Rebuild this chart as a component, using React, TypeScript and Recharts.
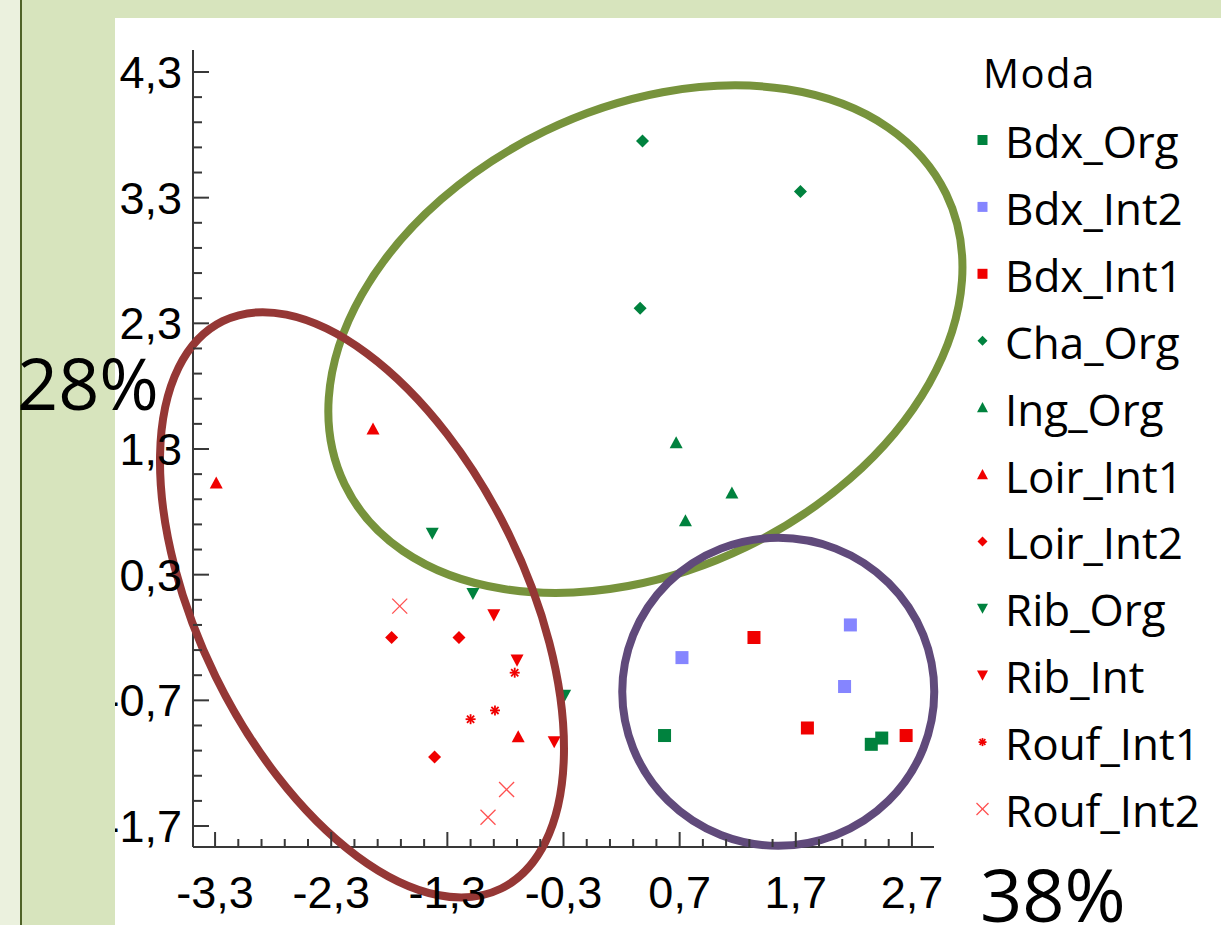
import React from 'react';
import { ScatterChart, Scatter, XAxis, YAxis, Legend, ReferenceDot } from 'recharts';

type Pt = { x: number; y: number };
type Kind = 'square' | 'diamond' | 'up' | 'down' | 'star' | 'cross';

// tick values (majors carry labels)
const xMajor = [-3.3, -2.3, -1.3, -0.3, 0.7, 1.7, 2.7];
const xTicks = [-3.3, -3.1, -2.9, -2.7, -2.5, -2.3, -2.1, -1.9, -1.7, -1.5, -1.3, -1.1, -0.9, -0.7, -0.5, -0.3,
  -0.1, 0.1, 0.3, 0.5, 0.7, 0.9, 1.1, 1.3, 1.5, 1.7, 1.9, 2.1, 2.3, 2.5, 2.7];
const yMajor = [-1.7, -0.7, 0.3, 1.3, 2.3, 3.3, 4.3];
const yTicks = [-1.7, -1.5, -1.3, -1.1, -0.9, -0.7, -0.5, -0.3, -0.1, 0.1, 0.3, 0.5, 0.7, 0.9, 1.1, 1.3,
  1.5, 1.7, 1.9, 2.1, 2.3, 2.5, 2.7, 2.9, 3.1, 3.3, 3.5, 3.7, 3.9, 4.1, 4.3];

// series
const bdxOrg: Pt[] = [{ x: 0.57, y: -0.98 }, { x: 2.35, y: -1.05 }, { x: 2.44, y: -1.0 }];
const bdxInt2: Pt[] = [{ x: 0.72, y: -0.36 }, { x: 2.17, y: -0.1 }, { x: 2.12, y: -0.59 }];
const bdxInt1: Pt[] = [{ x: 1.34, y: -0.2 }, { x: 1.8, y: -0.92 }, { x: 2.65, y: -0.98 }];
const chaOrg: Pt[] = [{ x: 0.38, y: 3.75 }, { x: 1.74, y: 3.35 }, { x: 0.36, y: 2.42 }];
const ingOrg: Pt[] = [{ x: 0.67, y: 1.35 }, { x: 1.15, y: 0.95 }, { x: 0.75, y: 0.73 }];
const loirInt1: Pt[] = [{ x: -3.29, y: 1.03 }, { x: -1.94, y: 1.46 }, { x: -0.69, y: -0.99 }];
const loirInt2: Pt[] = [{ x: -1.78, y: -0.2 }, { x: -1.2, y: -0.2 }, { x: -1.41, y: -1.15 }];
const ribOrg: Pt[] = [{ x: -1.43, y: 0.63 }, { x: -1.08, y: 0.15 }, { x: -0.29, y: -0.66 }];
const ribInt: Pt[] = [{ x: -0.9, y: -0.02 }, { x: -0.7, y: -0.38 }, { x: -0.38, y: -1.03 }];
const roufInt1: Pt[] = [{ x: -0.72, y: -0.48 }, { x: -0.89, y: -0.78 }, { x: -1.1, y: -0.85 }];
const roufInt2: Pt[] = [{ x: -1.71, y: 0.05 }, { x: -0.79, y: -1.41 }, { x: -0.95, y: -1.63 }];

const GREEN = '#00823E';
const RED = '#F00000';
const BLUE = '#8585FF';
const PINK = '#FF5050';

const series: { name: string; data: Pt[]; kind: Kind; color: string }[] = [
  { name: 'Bdx_Org', data: bdxOrg, kind: 'square', color: GREEN },
  { name: 'Bdx_Int2', data: bdxInt2, kind: 'square', color: BLUE },
  { name: 'Bdx_Int1', data: bdxInt1, kind: 'square', color: RED },
  { name: 'Cha_Org', data: chaOrg, kind: 'diamond', color: GREEN },
  { name: 'Ing_Org', data: ingOrg, kind: 'up', color: GREEN },
  { name: 'Loir_Int1', data: loirInt1, kind: 'up', color: RED },
  { name: 'Loir_Int2', data: loirInt2, kind: 'diamond', color: RED },
  { name: 'Rib_Org', data: ribOrg, kind: 'down', color: GREEN },
  { name: 'Rib_Int', data: ribInt, kind: 'down', color: RED },
  { name: 'Rouf_Int1', data: roufInt1, kind: 'star', color: RED },
  { name: 'Rouf_Int2', data: roufInt2, kind: 'cross', color: PINK },
];

// group ellipses: centre in data units, radii in px, rotation in degrees
const groups = [
  { x: 0.405, y: 2.174, rx: 334, ry: 231, rot: -25.8, color: '#77933C' },
  { x: -2.035, y: 0.06, rx: 316, ry: 163, rot: 63.85, color: '#953735' },
  { x: 1.549, y: -0.632, rx: 156, ry: 154, rot: 0, color: '#604A7B' },
];

const AXIS = '#383838';
const isMajor = (v: number, majors: number[]) => majors.some((m) => Math.abs(m - v) < 1e-6);
const fmt = (v: number) => v.toFixed(1).replace('.', ',');
const labelFont = { fontFamily: '"Liberation Sans", Arial, sans-serif', fontSize: 45, fill: '#000' };

function Marker({ kind, cx, cy, color, s }: { kind: Kind; cx: number; cy: number; color: string; s: number }) {
  const h = s / 2;
  switch (kind) {
    case 'square':
      return <rect x={cx - h} y={cy - h} width={s} height={s} fill={color} />;
    case 'diamond':
      return <polygon points={`${cx},${cy - h} ${cx + h},${cy} ${cx},${cy + h} ${cx - h},${cy}`} fill={color} />;
    case 'up':
      return <polygon points={`${cx},${cy - h} ${cx + h},${cy + h * 0.85} ${cx - h},${cy + h * 0.85}`} fill={color} />;
    case 'down':
      return <polygon points={`${cx - h},${cy - h * 0.85} ${cx + h},${cy - h * 0.85} ${cx},${cy + h}`} fill={color} />;
    case 'star': {
      const d = h * 0.72;
      return (
        <g stroke={color} strokeWidth={1.8}>
          <line x1={cx - h} y1={cy} x2={cx + h} y2={cy} />
          <line x1={cx} y1={cy - h} x2={cx} y2={cy + h} />
          <line x1={cx - d} y1={cy - d} x2={cx + d} y2={cy + d} />
          <line x1={cx - d} y1={cy + d} x2={cx + d} y2={cy - d} />
        </g>
      );
    }
    default:
      return (
        <g stroke={color} strokeWidth={1.3}>
          <line x1={cx - h} y1={cy - h} x2={cx + h} y2={cy + h} />
          <line x1={cx - h} y1={cy + h} x2={cx + h} y2={cy - h} />
        </g>
      );
  }
}

const markerSize: Record<Kind, number> = { square: 13, diamond: 13, up: 13, down: 13, star: 10, cross: 15 };
const legendSize: Record<Kind, number> = { square: 10, diamond: 10, up: 11, down: 11, star: 8, cross: 12 };

const BottomTick = (p: any) => {
  const v = p.payload.value;
  const major = isMajor(v, xMajor);
  return (
    <g>
      <line x1={p.x} y1={p.y} x2={p.x} y2={p.y - (major ? 15 : 8)} stroke={AXIS} strokeWidth={2} />
      {major && (
        <text x={p.x} y={p.y + 61} textAnchor="middle" {...labelFont}>{fmt(v)}</text>
      )}
    </g>
  );
};

const TopTick = (p: any) => {
  const major = isMajor(p.payload.value, xMajor);
  return <line x1={p.x} y1={p.y} x2={p.x} y2={p.y + (major ? 15 : 8)} stroke={AXIS} strokeWidth={2} />;
};

const LeftTick = (p: any) => {
  const v = p.payload.value;
  const major = isMajor(v, yMajor);
  return (
    <g>
      <line x1={p.x} y1={p.y} x2={p.x + (major ? 16 : 9)} y2={p.y} stroke={AXIS} strokeWidth={2} />
      {major && (
        <text x={p.x - 11} y={p.y + 16} textAnchor="end" {...labelFont}>{fmt(v)}</text>
      )}
    </g>
  );
};

const RightTick = (p: any) => {
  const major = isMajor(p.payload.value, yMajor);
  return <line x1={p.x} y1={p.y} x2={p.x - (major ? 16 : 9)} y2={p.y} stroke={AXIS} strokeWidth={2} />;
};

const LegendBox = () => (
  <svg width={261} height={820} style={{ display: 'block' }}>
    <text x={23} y={48} fontFamily='"Open Sans", sans-serif' fontSize={40} letterSpacing={1.5} fill="#000">Moda</text>
    {series.map((s, i) => (
      <g key={s.name}>
        <Marker kind={s.kind} cx={22.5} cy={100 + i * 66.9} color={s.color} s={legendSize[s.kind]} />
        <text x={45} y={118 + i * 66.9} fontFamily='"Open Sans", sans-serif' fontSize={44} fill="#000">{s.name}</text>
      </g>
    ))}
  </svg>
);

export default function App() {
  return (
    <div style={{ position: 'absolute', left: 0, top: 0, width: 1221, height: 925, background: '#fff', overflow: 'hidden' }}>
      <ScatterChart width={1221} height={925} margin={{ top: 50, right: 287, bottom: 18, left: 93 }}>
        <XAxis type="number" dataKey="x" domain={[-3.49, 2.89]} ticks={xTicks} interval={0}
          height={60} tickSize={0} tickMargin={0} tickLine={false} tick={<BottomTick />}
          axisLine={{ stroke: AXIS, strokeWidth: 2 }} />
        <XAxis xAxisId="top" orientation="top" type="number" dataKey="x" domain={[-3.49, 2.89]} ticks={xTicks}
          interval={0} height={0} tickSize={0} tickMargin={0} tickLine={false} tick={<TopTick />}
          axisLine={{ stroke: AXIS, strokeWidth: 2 }} />
        <YAxis type="number" dataKey="y" domain={[-1.867, 4.475]} ticks={yTicks} interval={0}
          width={100} tickSize={0} tickMargin={0} tickLine={false} tick={<LeftTick />}
          axisLine={{ stroke: AXIS, strokeWidth: 2 }} />
        <YAxis yAxisId="right" orientation="right" type="number" dataKey="y" domain={[-1.867, 4.475]}
          ticks={yTicks} interval={0} width={0} tickSize={0} tickMargin={0} tickLine={false}
          tick={<RightTick />} axisLine={{ stroke: AXIS, strokeWidth: 2 }} />
        <Scatter xAxisId="top" yAxisId="right" data={[]} isAnimationActive={false} legendType="none" />
        {series.map((s) => (
          <Scatter key={s.name} name={s.name} data={s.data} fill={s.color} isAnimationActive={false}
            shape={(p: any) => <Marker kind={s.kind} cx={p.cx} cy={p.cy} color={s.color} s={markerSize[s.kind]} />} />
        ))}
        {groups.map((g, i) => (
          <ReferenceDot key={i} x={g.x} y={g.y} r={1} ifOverflow="visible"
            shape={(p: any) => (
              <ellipse cx={p.cx} cy={p.cy} rx={g.rx} ry={g.ry} fill="none" stroke={g.color} strokeWidth={8}
                transform={`rotate(${g.rot} ${p.cx} ${p.cy})`} />
            )} />
        ))}
        <Legend layout="vertical" align="center" verticalAlign="middle"
          wrapperStyle={{ position: 'absolute', left: 960, top: 40, width: 261, height: 820 }}
          content={() => <LegendBox />} />
      </ScatterChart>
      <div style={{ position: 'absolute', left: 0, top: 0, width: 20, height: 925, background: '#EBF1DE' }} />
      <div style={{ position: 'absolute', left: 20, top: 0, width: 2, height: 925, background: '#4F6228' }} />
      <div style={{ position: 'absolute', left: 22, top: 0, width: 93, height: 925, background: '#D7E4BD' }} />
      <div style={{ position: 'absolute', left: 22, top: 0, width: 1199, height: 18, background: '#D7E4BD' }} />
      <svg width={1221} height={925} style={{ position: 'absolute', left: 0, top: 0, pointerEvents: 'none' }}>
        <text x={17} y={410} fontFamily='"Open Sans", sans-serif' fontSize={72} fill="#000">28%</text>
        <text x={980} y={922} fontFamily='"Open Sans", sans-serif' fontSize={74} fill="#000">38%</text>
      </svg>
    </div>
  );
}
